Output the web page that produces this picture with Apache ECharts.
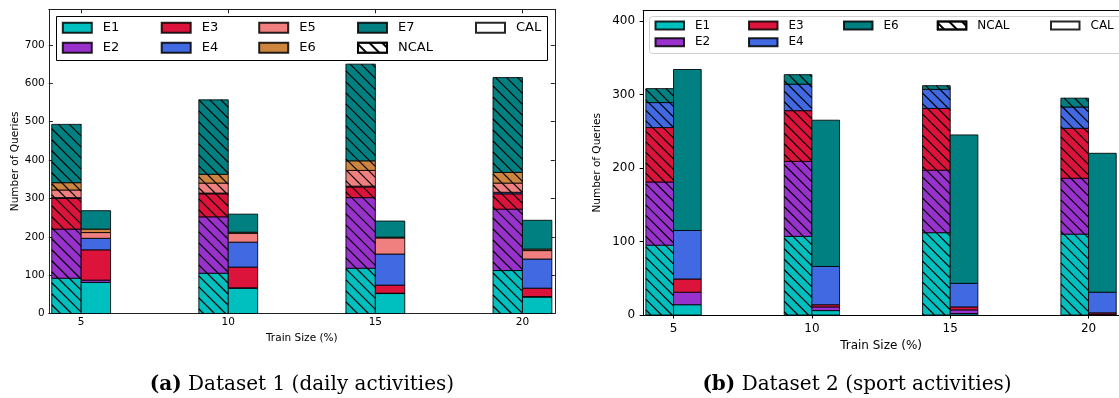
<!DOCTYPE html>
<html>
<head>
<meta charset="utf-8">
<script src="https://cdn.jsdelivr.net/npm/echarts@6/dist/echarts.min.js"></script>
<style>
  html, body { margin: 0; padding: 0; background: #fff; }
  #chart { width: 1119px; height: 398px; }
</style>
</head>
<body>
<div id="chart"></div>
<script>
// Two panels of stacked bars: hatched = NCAL (left of tick), plain = CAL (right of tick).
const TICKS = [5, 10, 15, 20]

// (a) Dataset 1
const A_SERIES = ['E1', 'E2', 'E3', 'E4', 'E5', 'E6', 'E7']
const A_COLORS = ['#00bfbf', '#9932cc', '#dc143c', '#4169e1', '#f08080', '#cd853f', '#008080']
const A_NCAL = [
  [92, 105, 118, 112],
  [128, 147, 184, 160],
  [80, 60, 28, 40],
  [2, 2, 2, 4],
  [20, 26, 41, 24],
  [19, 23, 25, 28],
  [152, 194, 252, 247]
]
const A_CAL = [
  [81, 66, 52, 43],
  [6, 1, 1, 1],
  [79, 54, 21, 22],
  [30, 65, 81, 76],
  [15, 23, 42, 22],
  [9, 3, 2, 4],
  [48, 47, 42, 75]
]
const A_YTICKS = [0, 100, 200, 300, 400, 500, 600, 700]

// (b) Dataset 2
const B_SERIES = ['E1', 'E2', 'E3', 'E4', 'E6']
const B_COLORS = ['#00bfbf', '#9932cc', '#dc143c', '#4169e1', '#008080']
const B_NCAL = [
  [95, 107, 112, 110],
  [86, 102, 85, 76],
  [74, 69, 84, 68],
  [34, 36, 26, 29],
  [19, 13, 5, 12]
]
const B_CAL = [
  [14, 6, 2, 0],
  [17, 5, 5, 1],
  [18, 3, 4, 2],
  [66, 52, 32, 28],
  [219, 199, 202, 189]
]
const B_YTICKS = [0, 100, 200, 300, 400]

const XMIN = 3.9, XMAX = 21.1
const FONT = 'DejaVu Sans'
const EDGE = 'rgba(0,0,0,0.85)'
const HATCH_C = '#000'
const LEG_HATCH = {
  symbol: 'rect', symbolSize: 1, dashArrayX: [1, 0], dashArrayY: [1.2, 7],
  rotation: Math.PI / 4, color: HATCH_C
}

// panel geometry (px)
const GA = { left: 48.8, top: 9.3, width: 506, height: 304.2 }
const GB = { left: 643.1, top: 10.7, width: 484.4, height: 304.3 }

// '\\' hatch lines clipped to a pixel rect
function hatchLines(x0, y0, x1, y1, s) {
  const out = []
  const cMin = Math.ceil((x0 - y1) / s) * s
  for (let c = cMin; c <= x1 - y0; c += s) {
    const xa = Math.max(x0, y0 + c), xb = Math.min(x1, y1 + c)
    if (xb - xa < 0.5) continue
    out.push({ type: 'line', shape: { x1: xa, y1: xa - c, x2: xb, y2: xb - c },
      style: { stroke: HATCH_C, lineWidth: 1.2 } })
  }
  return out
}
function makeRender(color, hatched, off, s) {
  return (params, api) => {
    const x = api.value(0), b = api.value(1), t = api.value(2)
    const p0 = api.coord([x + off, t]), p1 = api.coord([x + off + 1, b])
    const r = { x: p0[0], y: p0[1], width: p1[0] - p0[0], height: p1[1] - p0[1] }
    const children = [{ type: 'rect', shape: r, style: { fill: color } }]
    if (hatched) children.push(...hatchLines(r.x, r.y, r.x + r.width, r.y + r.height, s))
    children.push({ type: 'rect', shape: r, style: { fill: 'none', stroke: EDGE, lineWidth: 1 } })
    return { type: 'group', children }
  }
}
function stackSeries(p, names, colors, vals, hatched, xi, yi, s) {
  const base = TICKS.map(() => 0)
  return names.map((nm, i) => {
    const data = TICKS.map((x, k) => [x, base[k], base[k] + vals[i][k]])
    TICKS.forEach((x, k) => { base[k] += vals[i][k] })
    return {
      type: 'custom', name: `${p}-${hatched ? 'n' : 'c'}-${nm}`, xAxisIndex: xi, yAxisIndex: yi,
      silent: true, clip: false, encode: { x: 0, y: [1, 2] }, data,
      renderItem: makeRender(colors[i], hatched, hatched ? -1 : 0, s)
    }
  })
}
// empty series that only feed the legend icons
function legendSeries(p, names, colors, xi, yi) {
  const mk = (name, color, hatch) => ({
    type: 'bar', name: p + '-' + name, xAxisIndex: xi, yAxisIndex: yi, data: [],
    itemStyle: { color, borderColor: EDGE, borderWidth: 1, decal: hatch ? LEG_HATCH : null }
  })
  return [...names.map((n, i) => mk(n, colors[i], false)), mk('NCAL', '#fff', true), mk('CAL', '#fff', false)]
}
function legendCols(p, cols, top, iw, ih, gap, fs, lh) {
  return cols.map(([names, left]) => ({
    orient: 'vertical', left, top, padding: 0, itemGap: gap, icon: 'rect',
    itemWidth: iw, itemHeight: ih, selectedMode: false,
    data: names.map(n => p + '-' + n),
    formatter: n => n.slice(2),
    textStyle: { fontFamily: FONT, fontSize: fs, lineHeight: lh, color: '#000', padding: [0, 0, 0, 6] }
  }))
}

const chart = echarts.init(document.getElementById('chart'))
const axisTxt = (fs) => ({ fontFamily: FONT, fontSize: fs, color: '#000' })
const capStyle = {
  fontFamily: 'DejaVu Serif', fontSize: 20, fontWeight: 'normal', color: '#000',
  rich: { b: { fontFamily: 'DejaVu Serif', fontSize: 20, fontWeight: 'bold' } }
}

chart.setOption({
  animation: false,
  grid: [
    Object.assign({ containLabel: false }, GA),
    Object.assign({ containLabel: false }, GB)
  ],
  xAxis: [
    { gridIndex: 0, type: 'value', min: XMIN, max: XMAX, position: 'bottom',
      axisLine: { onZero: false, lineStyle: { color: '#222', width: 1 } },
      axisTick: { inside: true, length: 4, customValues: TICKS, lineStyle: { color: '#222' } },
      axisLabel: { customValues: TICKS, margin: 3, ...axisTxt(10.5) },
      splitLine: { show: false },
      name: 'Train Size (%)', nameLocation: 'middle', nameGap: 16,
      nameTextStyle: axisTxt(10.5) },
    { gridIndex: 0, type: 'value', min: XMIN, max: XMAX, position: 'top',
      axisLine: { onZero: false, lineStyle: { color: '#222', width: 1 } },
      axisTick: { inside: true, length: 4, customValues: TICKS, lineStyle: { color: '#222' } },
      axisLabel: { show: false }, splitLine: { show: false } },
    { gridIndex: 1, type: 'value', min: XMIN, max: XMAX, position: 'bottom',
      axisLine: { onZero: false, lineStyle: { color: '#000', width: 1 } },
      axisTick: { length: 3.5, customValues: TICKS, lineStyle: { color: '#000' } },
      axisLabel: { customValues: TICKS, margin: 8, ...axisTxt(12) },
      splitLine: { show: false },
      name: 'Train Size (%)', nameLocation: 'middle', nameGap: 24,
      nameTextStyle: axisTxt(12) },
    { gridIndex: 1, type: 'value', min: XMIN, max: XMAX, position: 'top',
      axisLine: { onZero: false, lineStyle: { color: '#000', width: 1 } },
      axisTick: { show: false }, axisLabel: { show: false }, splitLine: { show: false } }
  ],
  yAxis: [
    { gridIndex: 0, type: 'value', min: 0, max: 793, position: 'left',
      axisLine: { show: true, onZero: false, lineStyle: { color: '#222', width: 1 } },
      axisTick: { show: true, inside: true, length: 4, customValues: A_YTICKS, lineStyle: { color: '#222' } },
      axisLabel: { customValues: A_YTICKS, margin: 4, ...axisTxt(10.5) },
      splitLine: { show: false },
      name: 'Number of Queries', nameLocation: 'middle', nameGap: 28,
      nameTextStyle: axisTxt(10.5) },
    { gridIndex: 0, type: 'value', min: 0, max: 793, position: 'right',
      axisLine: { show: true, onZero: false, lineStyle: { color: '#222', width: 1 } },
      axisTick: { show: true, inside: true, length: 4, customValues: A_YTICKS, lineStyle: { color: '#222' } },
      axisLabel: { show: false }, splitLine: { show: false } },
    { gridIndex: 1, type: 'value', min: 0, max: 414, position: 'left',
      axisLine: { show: true, onZero: false, lineStyle: { color: '#000', width: 1 } },
      axisTick: { show: true, length: 3.5, customValues: B_YTICKS, lineStyle: { color: '#000' } },
      axisLabel: { customValues: B_YTICKS, margin: 8, ...axisTxt(12) },
      splitLine: { show: false },
      name: 'Number of Queries', nameLocation: 'middle', nameGap: 40,
      nameTextStyle: axisTxt(10.5) }
  ],
  legend: [
    ...legendCols('a', [[['E1', 'E2'], 61.8], [['E3', 'E4'], 160.7], [['E5', 'E6'], 258.2],
      [['E7', 'NCAL'], 357], [['CAL'], 475]], 20.7, 29, 10, 6, 13, 14),
    ...legendCols('b', [[['E1', 'E2'], 654.5], [['E3', 'E4'], 748], [['E6'], 843],
      [['NCAL'], 936.8], [['CAL'], 1050]], 19, 28.5, 8, 3.8, 12, 13)
  ],
  graphic: [
    { type: 'rect', z: 3, shape: { x: 56.5, y: 16.5, width: 491, height: 44 },
      style: { fill: '#fff', stroke: '#000', lineWidth: 1 } },
    { type: 'rect', z: 3, shape: { x: 649.5, y: 16.5, width: 520, height: 37, r: 3 },
      style: { fill: '#fff', stroke: '#d0d0d0', lineWidth: 1 } }
  ],
  title: [
    { left: 297, top: 370, textAlign: 'center',
      text: '{b|(a)} Dataset 1 (daily activities)', textStyle: capStyle },
    { left: 852, top: 370, textAlign: 'center',
      text: '{b|(b)} Dataset 2 (sport activities)', textStyle: capStyle }
  ],
  series: [
    ...stackSeries('a', A_SERIES, A_COLORS, A_NCAL, true, 0, 0, 11),
    ...stackSeries('a', A_SERIES, A_COLORS, A_CAL, false, 0, 0, 11),
    ...legendSeries('a', A_SERIES, A_COLORS, 1, 1),
    ...stackSeries('b', B_SERIES, B_COLORS, B_NCAL, true, 2, 2, 10.5),
    ...stackSeries('b', B_SERIES, B_COLORS, B_CAL, false, 2, 2, 10.5),
    ...legendSeries('b', B_SERIES, B_COLORS, 3, 2)
  ]
})
</script>
</body>
</html>
